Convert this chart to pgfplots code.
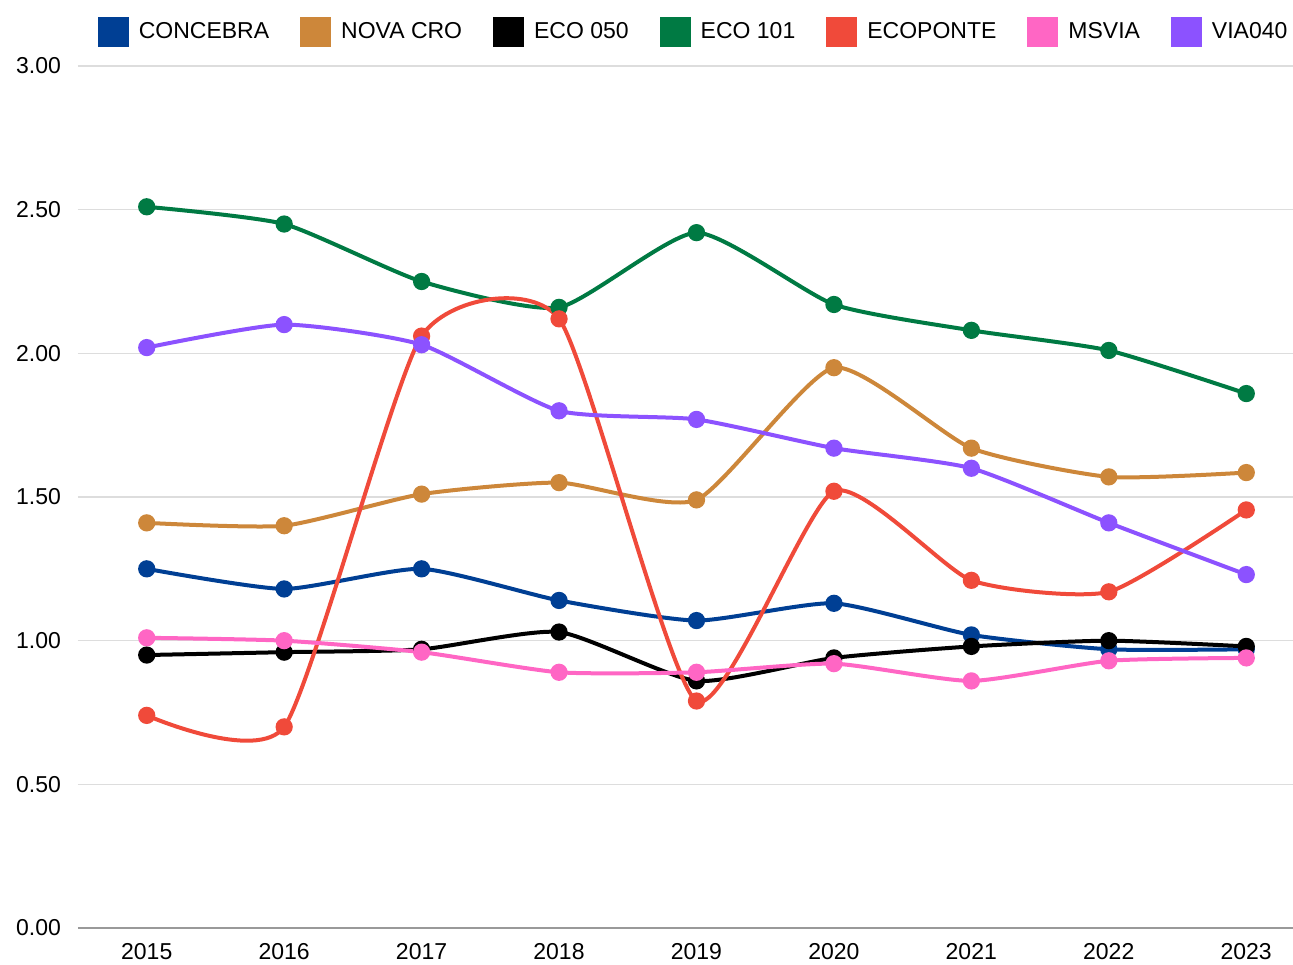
\documentclass[border=0pt]{standalone}
\usepackage{pgfplots}
\pgfplotsset{compat=1.18}
\usepackage{fontspec}
\setmainfont{Liberation Sans}
\definecolor{cconc}{HTML}{003F94}
\definecolor{cnova}{HTML}{CD873A}
\definecolor{ceco}{HTML}{000000}
\definecolor{cecoa}{HTML}{007A43}
\definecolor{cecop}{HTML}{F04A3A}
\definecolor{cms}{HTML}{FF66C4}
\definecolor{cvia}{HTML}{8C52FF}
\definecolor{gridc}{HTML}{DDDDDD}
\begin{document}
\begin{tikzpicture}
\path[use as bounding box] (-39pt,-18pt) rectangle (607.5pt,464pt);
\begin{axis}[
  at={(0pt,0pt)}, anchor=south west,
  scale only axis, width=607.5pt, height=431pt,
  xmin=2014.5, xmax=2023.34, ymin=0, ymax=3,
  xtick={2015,...,2023}, ytick={0,0.5,...,3},
  axis line style={draw=none},
  major tick length=0pt,
  ymajorgrids, grid style={gridc, line width=0.75pt},
  font=\fontsize{11.5pt}{13pt}\selectfont,
  /pgf/number format/assume math mode=true,
  xticklabel style={/pgf/number format/1000 sep={}, yshift=-4pt},
  yticklabel style={/pgf/number format/fixed, /pgf/number format/fixed zerofill, /pgf/number format/precision=2, xshift=-5pt},
  every axis plot/.append style={line width=2pt, smooth, tension=0.35, mark=*, mark size=3.3pt},
  legend columns=-1,
  legend style={draw=none, fill=none, at={(0.5075,1.0395)}, anchor=center,
    font=\fontsize{11.5pt}{13pt}\selectfont,
    /tikz/every odd column/.append style={column sep=3pt},
    /tikz/every even column/.append style={column sep=13.5pt}},
  legend image code/.code={\fill[#1] (0pt,-6.7pt) rectangle (13.5pt,6.7pt);},
  clip=false,
]
\draw[color=black!40, line width=0.8pt] (axis cs:2014.5,0) -- (axis cs:2023.34,0);
\addplot[color=cconc] coordinates {(2015,1.25)(2016,1.18)(2017,1.25)(2018,1.14)(2019,1.07)(2020,1.13)(2021,1.02)(2022,0.97)(2023,0.97)};
\addlegendentry{CONCEBRA}
\addplot[color=cnova] coordinates {(2015,1.41)(2016,1.40)(2017,1.51)(2018,1.55)(2019,1.49)(2020,1.95)(2021,1.67)(2022,1.57)(2023,1.585)};
\addlegendentry{NOVA CRO}
\addplot[color=ceco] coordinates {(2015,0.95)(2016,0.96)(2017,0.97)(2018,1.03)(2019,0.86)(2020,0.94)(2021,0.98)(2022,1.00)(2023,0.98)};
\addlegendentry{ECO 050}
\addplot[color=cecoa] coordinates {(2015,2.51)(2016,2.45)(2017,2.25)(2018,2.16)(2019,2.42)(2020,2.17)(2021,2.08)(2022,2.01)(2023,1.86)};
\addlegendentry{ECO 101}
\addplot[color=cecop] coordinates {(2015,0.74)(2016,0.70)(2017,2.06)(2018,2.12)(2019,0.79)(2020,1.52)(2021,1.21)(2022,1.17)(2023,1.455)};
\addlegendentry{ECOPONTE}
\addplot[color=cms] coordinates {(2015,1.01)(2016,1.00)(2017,0.96)(2018,0.89)(2019,0.89)(2020,0.92)(2021,0.86)(2022,0.93)(2023,0.94)};
\addlegendentry{MSVIA}
\addplot[color=cvia] coordinates {(2015,2.02)(2016,2.10)(2017,2.03)(2018,1.80)(2019,1.77)(2020,1.67)(2021,1.60)(2022,1.41)(2023,1.23)};
\addlegendentry{VIA040}
\end{axis}
\end{tikzpicture}
\end{document}
